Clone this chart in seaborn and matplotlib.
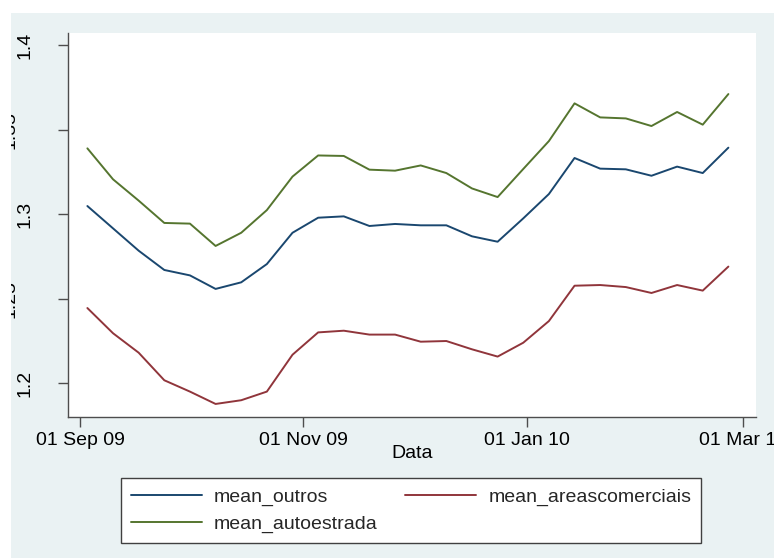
import numpy as np
import pandas as pd
import matplotlib
matplotlib.use("Agg")
import matplotlib.pyplot as plt
import matplotlib.dates as mdates
import matplotlib.transforms as mtransforms
from matplotlib.patches import Rectangle
import seaborn as sns

# Weekly means, Sep 2009 - Feb 2010
weeks = pd.date_range("2009-09-03", periods=26, freq="7D")

mean_outros = [1.3048, 1.2916, 1.2784, 1.2670, 1.2638, 1.2558, 1.2597, 1.2705,
               1.2890, 1.2979, 1.2987, 1.2930, 1.2942, 1.2934, 1.2934, 1.2869,
               1.2837, 1.2975, 1.3119, 1.3332, 1.3269, 1.3265, 1.3227, 1.3281,
               1.3243, 1.3393]
mean_areascomerciais = [1.2445, 1.2296, 1.2181, 1.2018, 1.1951, 1.1878, 1.1900, 1.1951,
                        1.2169, 1.2301, 1.2311, 1.2288, 1.2288, 1.2246, 1.2250, 1.2201,
                        1.2158, 1.2240, 1.2368, 1.2577, 1.2581, 1.2569, 1.2534, 1.2581,
                        1.2548, 1.2690]
mean_autoestrada = [1.3389, 1.3206, 1.3080, 1.2948, 1.2944, 1.2812, 1.2890, 1.3024,
                    1.3222, 1.3347, 1.3344, 1.3263, 1.3257, 1.3288, 1.3243, 1.3152,
                    1.3101, 1.3267, 1.3432, 1.3655, 1.3572, 1.3566, 1.3521, 1.3604,
                    1.3529, 1.3710]

series_names = ["mean_outros", "mean_areascomerciais", "mean_autoestrada"]
series_colors = ["#1a476f", "#90353b", "#55752f"]

y_ticks = [1.2, 1.25, 1.3, 1.35, 1.4]
y_tick_labels = ["1.2", "1.25", "1.3", "1.35", "1.4"]
x_ticks = ["2009-09-01", "2009-11-01", "2010-01-01", "2010-03-01"]

df = pd.DataFrame({
    "Data": np.tile(weeks.values, 3),
    "valor": np.concatenate([mean_outros, mean_areascomerciais, mean_autoestrada]),
    "serie": np.repeat(series_names, len(weeks)),
})

sns.set_style("white")
plt.rcParams["font.family"] = ["Liberation Sans", "DejaVu Sans"]

BG = "#eaf2f3"
AXIS_COLOR = "#4d4d4d"
FS = 14

W, H = 774, 558
fig = plt.figure(figsize=(W / 100, H / 100), dpi=100, facecolor=BG)
left, right, top, bottom = 68, 755.7, 33, 416.5
ax = fig.add_axes([left / W, 1 - bottom / H, (right - left) / W, (bottom - top) / H])
ax.set_facecolor("white")

sns.lineplot(data=df, x="Data", y="valor", hue="serie", hue_order=series_names,
             palette=series_colors, linewidth=1.4, ax=ax, legend=False)

ax.set_xlim(pd.Timestamp("2009-08-28 17:00"), pd.Timestamp("2010-03-04 11:00"))
ax.set_ylim(1.18038, 1.40709)

for s in ["top", "right"]:
    ax.spines[s].set_visible(False)
for s in ["left", "bottom"]:
    ax.spines[s].set_color(AXIS_COLOR)
    ax.spines[s].set_linewidth(1.0)

ax.set_xticks(pd.to_datetime(x_ticks))
ax.xaxis.set_major_formatter(mdates.DateFormatter("%d %b %y"))
ax.set_yticks(y_ticks)
ax.tick_params(axis="both", direction="out", length=7, width=1, color=AXIS_COLOR,
               bottom=True, left=True, labelsize=FS, labelcolor="black")
ax.tick_params(axis="x", pad=4.0)
ax.tick_params(axis="y", labelleft=False)

# Vertical y tick labels
for v, lab in zip(y_ticks, y_tick_labels):
    shift = -43 if len(lab) == 3 else -58
    tr = mtransforms.offset_copy(ax.get_yaxis_transform(), fig=fig, x=shift, y=0, units="dots")
    fig.text(0, v, lab, transform=tr, rotation=90, ha="center", va="center",
             fontsize=FS, color="black")

ax.set_ylabel("")
ax.set_xlabel("Data", fontsize=FS, color="black")
ax.xaxis.set_label_coords(0.5, -0.0745)

# Legend below the plot, two columns filled row-wise
handles = ax.get_lines()[:3]
order = [0, 2, 1]
leg = fig.legend([handles[i] for i in order], [series_names[i] for i in order],
                 ncol=2, loc="center", bbox_to_anchor=(411 / W, 1 - 510.5 / H),
                 fontsize=FS, frameon=True, fancybox=False, framealpha=1,
                 handlelength=3.65, handletextpad=0.62, columnspacing=1.43,
                 labelspacing=0.49, borderpad=0.51)
leg.get_frame().set_facecolor("white")
leg.get_frame().set_edgecolor("#404040")
leg.get_frame().set_linewidth(1.0)

# White page margin along the top and left edges
fig.add_artist(Rectangle((0, 0), 11 / W, 1, transform=fig.transFigure,
                         facecolor="white", edgecolor="none", zorder=10))
fig.add_artist(Rectangle((0, 1 - 13 / H), 1, 13 / H, transform=fig.transFigure,
                         facecolor="white", edgecolor="none", zorder=10))

fig.savefig("out.png", dpi=100, facecolor=BG)
